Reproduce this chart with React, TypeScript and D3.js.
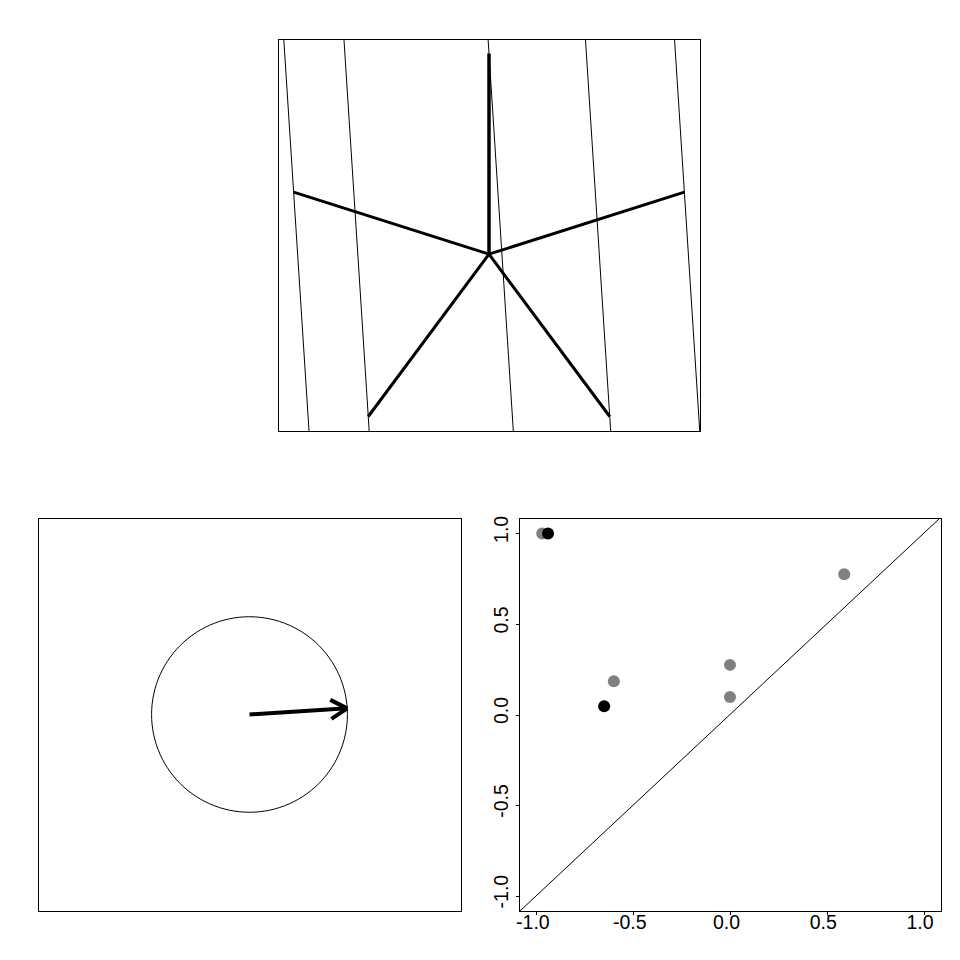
import * as d3 from 'd3'

// star graph: arm angles (degrees) from the centre, unit arm length
const armAngles = [90, 162, 234, 306, 18]
const armLength = 1
// filtration direction (degrees)
const directionDeg = 3.6

// persistence diagram points
const birth = [-0.97, -0.94, -0.65, -0.6, 0.0, 0.0, 0.59]
const death = [1.0, 1.0, 0.046, 0.184, 0.274, 0.097, 0.775]
const pointColor = ['#808080', '#000000', '#000000', '#808080', '#808080', '#808080', '#808080']

const tickValues = [-1.0, -0.5, 0.0, 0.5, 1.0]
const tickLabels = ['-1.0', '-0.5', '0.0', '0.5', '1.0']

const rad = (d: number) => (d * Math.PI) / 180

function App() {
  const W = 960, H = 960

  // top panel
  const top = { left: 278, right: 700, top: 39, bottom: 431 }
  const verts = armAngles.map(a => [armLength * Math.cos(rad(a)), armLength * Math.sin(rad(a))])
  const xs = verts.map(v => v[0]), ys = verts.map(v => v[1])
  const xr = d3.extent(xs) as [number, number]
  const yr = d3.extent([...ys, 0]) as [number, number]
  const padX = (xr[1] - xr[0]) * 0.04, padY = (yr[1] - yr[0]) * 0.04
  const sx = d3.scaleLinear([xr[0] - padX, xr[1] + padX], [top.left, top.right])
  const sy = d3.scaleLinear([yr[0] - padY, yr[1] + padY], [top.bottom, top.top])
  const dv = [Math.cos(rad(directionDeg)), Math.sin(rad(directionDeg))]
  const dp = [-dv[1], dv[0]]
  const levelLines = verts.map(v => {
    const h = v[0] * dv[0] + v[1] * dv[1]
    return [-3, 3].map(t => [h * dv[0] + t * dp[0], h * dv[1] + t * dp[1]])
  })
  const lineGen = d3.line<number[]>().x(d => sx(d[0])).y(d => sy(d[1]))

  // bottom-left panel
  const bl = { left: 38, right: 461, top: 518, bottom: 911 }
  const cx = d3.scaleLinear([-2.16, 2.16], [bl.left, bl.right])
  const cy = d3.scaleLinear([-2.01, 2.01], [bl.bottom, bl.top])
  const circlePts = d3.range(0, 361, 3).map(a => [Math.cos(rad(a)), Math.sin(rad(a))])
  const circleGen = d3.line<number[]>().x(d => cx(d[0])).y(d => cy(d[1]))
  const tip = [cx(dv[0]), cy(dv[1])]
  const base = [cx(0), cy(0)]
  const ang = Math.atan2(tip[1] - base[1], tip[0] - base[0])
  const headLen = 19
  const head = [ang + rad(150), ang - rad(150)].map(a => [tip[0] + headLen * Math.cos(a), tip[1] + headLen * Math.sin(a)])

  // bottom-right panel
  const br = { left: 519, right: 941, top: 518, bottom: 911 }
  const px = d3.scaleLinear([-1.09, 1.09], [br.left, br.right])
  const py = d3.scaleLinear([-1.085, 1.085], [br.bottom, br.top])

  const font = { fontFamily: 'Liberation Sans, Arial, sans-serif', fontSize: 19.5 }

  return (
    <svg width={W} height={H} style={{ position: 'absolute', left: 0, top: 0, background: '#fff' }}>
      <defs>
        <clipPath id="topclip">
          <rect x={top.left} y={top.top} width={top.right - top.left} height={top.bottom - top.top} />
        </clipPath>
        <clipPath id="brclip">
          <rect x={br.left} y={br.top} width={br.right - br.left} height={br.bottom - br.top} />
        </clipPath>
      </defs>
      <rect width={W} height={H} fill="#fff" />

      {/* top panel */}
      <g clipPath="url(#topclip)">
        {levelLines.map((l, i) => (
          <path key={i} d={lineGen(l) as string} stroke="#000" strokeWidth={1} fill="none" />
        ))}
      </g>
      {verts.map((v, i) => (
        <line key={i} x1={sx(0)} y1={sy(0)} x2={sx(v[0])} y2={sy(v[1])}
          stroke="#000" strokeWidth={i === 0 ? 3.5 : 3} />
      ))}
      <rect x={top.left + 0.5} y={top.top + 0.5} width={top.right - top.left} height={top.bottom - top.top}
        fill="none" stroke="#000" strokeWidth={1} />

      {/* bottom-left panel */}
      <path d={circleGen(circlePts) as string} fill="none" stroke="#000" strokeWidth={1} />
      <line x1={base[0]} y1={base[1]} x2={tip[0]} y2={tip[1]} stroke="#000" strokeWidth={4} />
      {head.map((h, i) => (
        <line key={i} x1={tip[0]} y1={tip[1]} x2={h[0]} y2={h[1]} stroke="#000" strokeWidth={4} />
      ))}
      <rect x={bl.left + 0.5} y={bl.top + 0.5} width={bl.right - bl.left} height={bl.bottom - bl.top}
        fill="none" stroke="#000" strokeWidth={1} />

      {/* bottom-right panel */}
      <g clipPath="url(#brclip)">
        <line x1={px(-1.09)} y1={py(-1.09)} x2={px(1.09)} y2={py(1.09)} stroke="#000" strokeWidth={1} />
      </g>
      {birth.map((b, i) => (
        <circle key={i} cx={px(b)} cy={py(death[i])} r={6} fill={pointColor[i]} />
      ))}
      <rect x={br.left + 0.5} y={br.top + 0.5} width={br.right - br.left} height={br.bottom - br.top}
        fill="none" stroke="#000" strokeWidth={1} />
      {tickValues.map((t, i) => (
        <g key={'x' + i}>
          <line x1={Math.round(px(t)) + 0.5} x2={Math.round(px(t)) + 0.5} y1={br.bottom} y2={br.bottom + 4} stroke="#000" />
          <text x={px(t) - 3.5} y={br.bottom + 18} textAnchor="middle" style={font}>{tickLabels[i]}</text>
        </g>
      ))}
      {tickValues.map((t, i) => (
        <g key={'y' + i}>
          <line x1={br.left - 3} x2={br.left} y1={Math.round(py(t)) + 0.5} y2={Math.round(py(t)) + 0.5} stroke="#000" />
          <text transform={`translate(${br.left - 11}, ${py(t) - 4}) rotate(-90)`}
            textAnchor="middle" style={font}>{tickLabels[i]}</text>
        </g>
      ))}
    </svg>
  )
}

export default App
